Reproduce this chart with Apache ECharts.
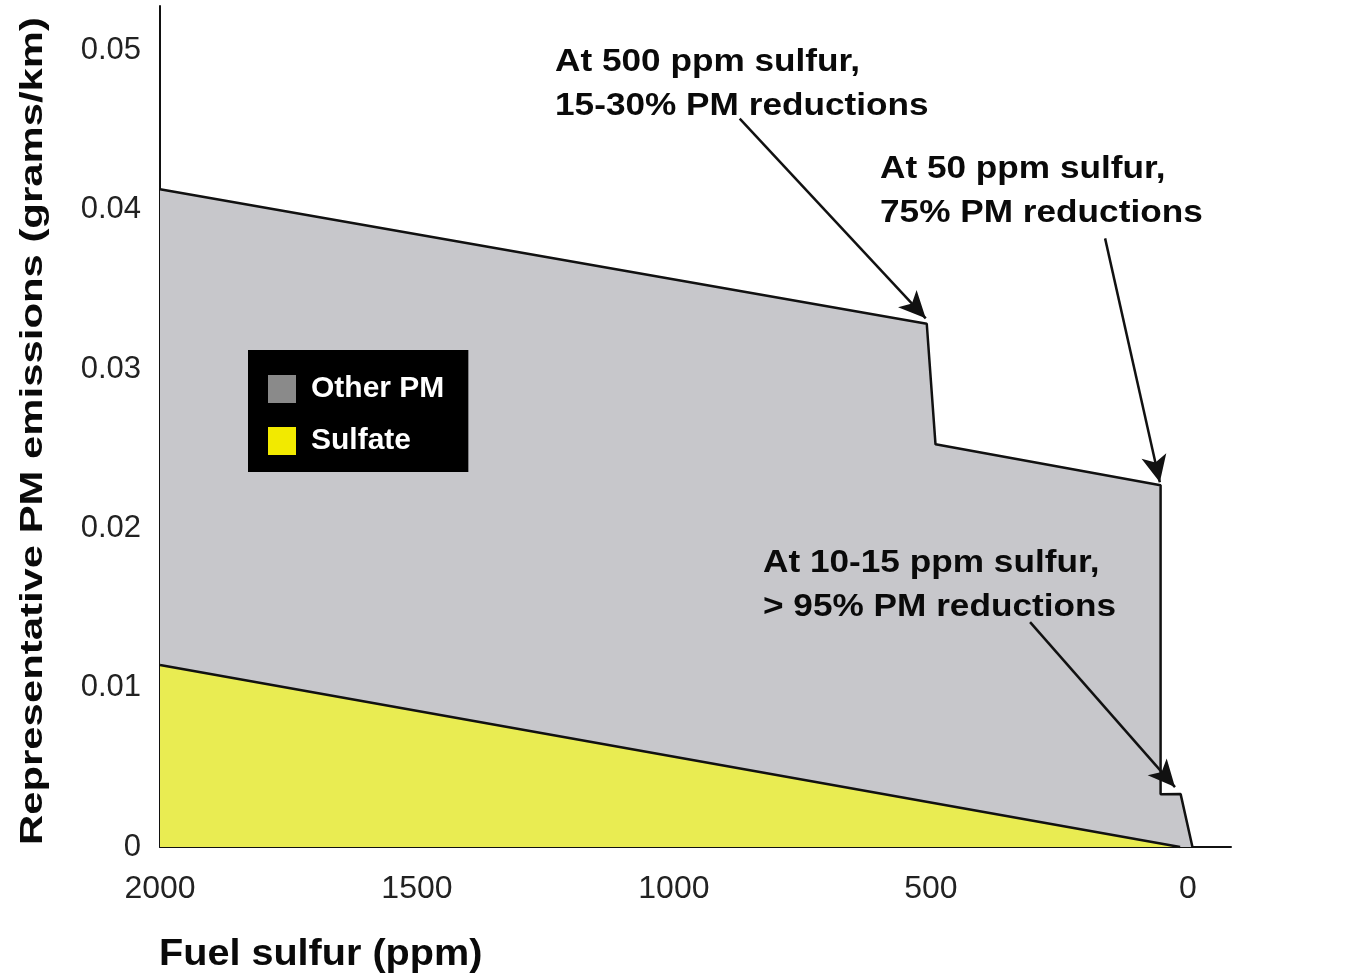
<!DOCTYPE html>
<html>
<head>
<meta charset="utf-8">
<script src="https://cdn.jsdelivr.net/npm/echarts@6/dist/echarts.min.js"></script>
<style>
html,body{margin:0;padding:0;background:#ffffff;}
#chart{width:1347px;height:978px;}
</style>
</head>
<body>
<div id="chart"></div>
<script>
// Fuel sulfur (ppm) vs PM emissions (grams/km)
var xTicks = [0, 500, 1000, 1500, 2000];
var yTicks = [0, 0.01, 0.02, 0.03, 0.04, 0.05];

// Total PM envelope (Other PM + Sulfate), top edge of gray area
var totalSulfur = [2000, 508, 491, 53, 53, 14, -9];
var totalPM     = [0.0413, 0.03285, 0.02528, 0.02271, 0.00331, 0.00332, 0];

// Sulfate component
var sulfateSulfur = [2000, 15];
var sulfatePM     = [0.01142, 0];

// Annotation arrows: [fromSulfur, fromPM, toSulfur, toPM]
var arrows = [
  [872, 0.04573, 510, 0.03319],
  [161, 0.03821, 54.5, 0.0229],
  [307, 0.01412, 25, 0.00376]
];
var notes = [
  ['At 500 ppm sulfur,', '15-30% PM reductions'],
  ['At 50 ppm sulfur,', '75% PM reductions'],
  ['At 10-15 ppm sulfur,', '> 95% PM reductions']
];

function pairs(xs, ys){ return xs.map(function(x,i){ return [x, ys[i]]; }); }

var FONT = '"Liberation Sans", Arial, Helvetica, sans-serif';
var chart = echarts.init(document.getElementById('chart'), null, {renderer:'canvas'});

var notePos = [[555, 40], [880, 147], [763, 541]];
var graphics = [];
notes.forEach(function(n, i){
  graphics.push({
    type:'text', x: notePos[i][0], y: notePos[i][1], scaleX:1.1, z: 100,
    style:{ text: n.join('\n'), fill:'#0a0a0a', font:'bold 32px ' + FONT, lineHeight: 44,
            textAlign:'left', textVerticalAlign:'top' }
  });
});
graphics.push({
  type:'text', x:159, y:937, scaleX:1.1, z:100,
  style:{ text:'Fuel sulfur (ppm)', fill:'#0a0a0a', font:'bold 36px ' + FONT,
          textAlign:'left', textVerticalAlign:'top' }
});
graphics.push({
  type:'text', x:33, y:431, rotation:Math.PI/2, scaleX:1.35, z:100,
  style:{ text:'Representative PM emissions (grams/km)', fill:'#0a0a0a', font:'bold 31px ' + FONT,
          textAlign:'center', textVerticalAlign:'middle' }
});

var option = {
  backgroundColor:'#ffffff',
  animation:false,
  grid:{ left:160, right:116, top:6, bottom:131, containLabel:false },
  legend:{
    left:248, top:350,
    orient:'vertical',
    backgroundColor:'#000000',
    padding:[24, 24, 16, 20],
    itemWidth:28, itemHeight:28, itemGap:22,
    icon:'rect',
    selectedMode:false,
    textStyle:{ color:'#ffffff', fontSize:30, fontWeight:'bold', fontFamily:FONT, padding:[0,0,0,10] },
    itemStyle:{ borderWidth:0 },
    data:[
      { name:'Other PM', itemStyle:{ color:'#8a8a8a', borderWidth:0 } },
      { name:'Sulfate', itemStyle:{ color:'#f2ea00', borderWidth:0 } }
    ]
  },
  xAxis:{
    type:'value', inverse:true, min:-84, max:2000,
    axisLine:{ onZero:false, lineStyle:{ color:'#111', width:2 } },
    axisTick:{ show:false },
    splitLine:{ show:false },
    axisLabel:{ customValues:xTicks, color:'#222', fontSize:32, fontFamily:FONT, margin:26,
      formatter:function(v){ return String(v); } }
  },
  yAxis:{
    type:'value', min:0, max:0.0528, interval:0.01,
    axisLine:{ show:true, onZero:false, lineStyle:{ color:'#111', width:2 } },
    axisTick:{ show:false },
    splitLine:{ show:false },
    axisLabel:{ customValues:yTicks, color:'#222', fontSize:31, fontFamily:FONT, margin:19,
      formatter:function(v){ return v === 0 ? '0' : v.toFixed(2); } }
  },
  series:[
    {
      name:'Other PM', type:'line', data:pairs(totalSulfur, totalPM),
      symbol:'none', silent:true,
      itemStyle:{ color:'#8a8a8a' },
      lineStyle:{ color:'#111', width:2.5 },
      areaStyle:{ color:'#c7c7cb', opacity:1 },
      markLine:{
        silent:true, symbol:['none','arrow'], symbolSize:[19, 27],
        lineStyle:{ color:'#111', width:2.5, type:'solid' },
        label:{ show:false },
        data: arrows.map(function(a){ return [{coord:[a[0],a[1]]},{coord:[a[2],a[3]]}]; })
      }
    },
    {
      name:'Sulfate', type:'line', data:pairs(sulfateSulfur, sulfatePM),
      symbol:'none', silent:true,
      itemStyle:{ color:'#f2ea00' },
      lineStyle:{ color:'#111', width:2.5 },
      areaStyle:{ color:'#e9ec52', opacity:1 }
    }
  ],
  graphic: graphics
};
chart.setOption(option);
</script>
</body>
</html>
